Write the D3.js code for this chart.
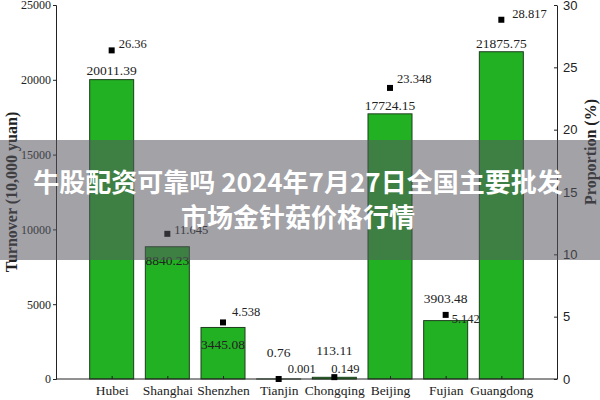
<!DOCTYPE html>
<html>
<head>
<meta charset="utf-8">
<script src="https://cdn.jsdelivr.net/npm/d3@7"></script>
<style>
  body { margin: 0; background: #fff; }
  svg { display: block; }
  .serif { font-family: 'Liberation Serif', 'DejaVu Serif', serif; fill: #222; }
</style>
</head>
<body>
<svg id="chart" width="600" height="400"></svg>
<script>
const cities = ['Hubei', 'Shanghai', 'Shenzhen', 'Tianjin', 'Chongqing', 'Beijing', 'Fujian', 'Guangdong'];
const turnover = [20011.39, 8840.23, 3445.08, 0.76, 113.11, 17724.15, 3903.48, 21875.75];
const proportion = [26.36, 11.645, 4.538, 0.001, 0.149, 23.348, 5.142, 28.817];
const leftTicks = [0, 5000, 10000, 15000, 20000, 25000];
const rightTicks = [0, 5, 10, 15, 20, 25, 30];
const titleLines = ['牛股配资可靠吗 2024年7月27日全国主要批发', '市场金针菇价格行情'];

// label placement tweaks (px), by category index
const turnoverLabelDy = [-5, 18, 22, -22, -22, -4, -18, -4];
const propLabelDx = [4, 4, 6, 6, -6, 4, 3, 8];
const propLabelDy = [-2, 0, -6, -6, -4, -5, 8, -2];

const svg = d3.select('#chart');
const plotLeft = 56, plotRight = 557, plotTop = 5, plotBottom = 379;
const barWidth = 44;

const x = d3.scalePoint().domain(cities).range([plotLeft, plotRight]).padding(1);
const yL = d3.scaleLinear().domain([0, 25000]).range([plotBottom, plotTop]);
const yR = d3.scaleLinear().domain([0, 30]).range([plotBottom, plotTop]);

// bars
svg.append('g').selectAll('rect')
  .data(cities)
  .join('rect')
  .attr('x', d => x(d) - barWidth / 2)
  .attr('y', (d, i) => yL(turnover[i]))
  .attr('width', barWidth)
  .attr('height', (d, i) => plotBottom - yL(turnover[i]))
  .attr('fill', '#22b122')
  .attr('stroke', '#1d3d1d')
  .attr('stroke-width', 1);

// axes
const axisL = svg.append('g').attr('transform', `translate(${plotLeft},0)`)
  .call(d3.axisLeft(yL).tickValues(leftTicks).tickSize(3).tickFormat(d3.format('d')));
axisL.selectAll('text').attr('class', 'serif').style('font-size', '12px').attr('x', -5);

const axisR = svg.append('g').attr('transform', `translate(${plotRight},0)`)
  .call(d3.axisRight(yR).tickValues(rightTicks).tickSize(0).tickFormat(d3.format('d')));
axisR.selectAll('text').style('font-family', 'Liberation Sans, Arial, sans-serif')
  .style('font-size', '13px').attr('fill', '#222').attr('x', 6);
axisR.selectAll('.tick').append('line').attr('x1', -3).attr('x2', 0).attr('stroke', '#222');

const axisB = svg.append('g').attr('transform', `translate(0,${plotBottom})`)
  .call(d3.axisBottom(x).tickSize(-3).tickSizeOuter(0));
axisB.select('.domain').attr('d', `M${plotLeft},0H${plotRight}`);
axisB.selectAll('text').attr('class', 'serif').style('font-size', '13.5px').attr('y', 6);

svg.selectAll('.domain, .tick line').attr('stroke', '#222');

// turnover value labels
svg.append('g').selectAll('text')
  .data(cities)
  .join('text')
  .attr('class', 'serif')
  .attr('x', d => x(d))
  .attr('y', (d, i) => yL(turnover[i]) + turnoverLabelDy[i])
  .attr('text-anchor', 'middle')
  .style('font-size', '13.5px')
  .text((d, i) => turnover[i]);

// proportion markers
svg.append('g').selectAll('rect')
  .data(cities)
  .join('rect')
  .attr('x', d => x(d) - 3)
  .attr('y', (d, i) => yR(proportion[i]) - 3)
  .attr('width', 6)
  .attr('height', 6)
  .attr('fill', '#000');

svg.append('g').selectAll('text')
  .data(cities)
  .join('text')
  .attr('class', 'serif')
  .attr('x', (d, i) => x(d) + 3 + propLabelDx[i])
  .attr('y', (d, i) => yR(proportion[i]) + propLabelDy[i])
  .style('font-size', '12.5px')
  .text((d, i) => proportion[i]);

// axis titles
svg.append('text')
  .attr('transform', `translate(17,${(plotTop + plotBottom) / 2}) rotate(-90)`)
  .attr('text-anchor', 'middle')
  .attr('class', 'serif')
  .style('font-size', '16px').style('font-weight', 'bold')
  .text('Turnover (10,000 yuan)');

svg.append('text')
  .attr('transform', `translate(596,152) rotate(-90)`)
  .attr('text-anchor', 'middle')
  .attr('class', 'serif')
  .style('font-size', '16px').style('font-weight', 'bold')
  .text('Proportion (%)');

// overlay band with title
svg.append('rect')
  .attr('x', 0).attr('y', 140).attr('width', 600).attr('height', 120)
  .attr('fill', 'rgba(85,85,95,0.55)');

svg.append('g').selectAll('text')
  .data(titleLines)
  .join('text')
  .attr('x', 298)
  .attr('y', (d, i) => 192 + i * 35)
  .attr('text-anchor', 'middle')
  .style('font-family', "'Noto Sans CJK SC', sans-serif")
  .style('font-weight', 'bold')
  .style('font-size', '26px')
  .attr('fill', '#fff')
  .text(d => d);
</script>
</body>
</html>
